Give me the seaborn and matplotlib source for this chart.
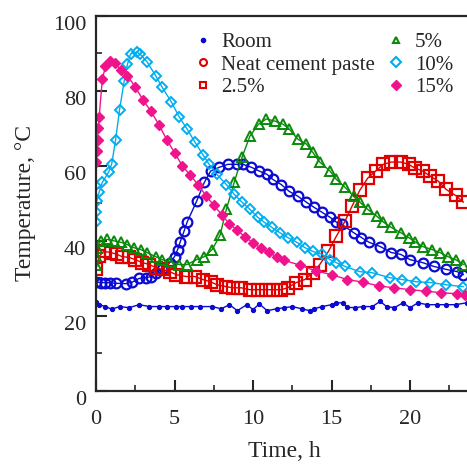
import pandas as pd
import matplotlib
matplotlib.use("Agg")
import matplotlib.pyplot as plt
import matplotlib.transforms as mtransforms
import seaborn as sns
from matplotlib.lines import Line2D
from matplotlib.ticker import MultipleLocator

# ---- data (time in h, temperature in deg C) ----
room_t = [0, 0.2, 0.6, 1.0, 1.5, 2.1, 2.75, 3.4, 4.0, 4.5, 5.1, 5.5, 6.05, 6.6,
          7.4, 7.97, 8.5, 9.0, 9.6, 10.0, 10.4, 10.9, 11.5, 12.0, 12.5, 13.1,
          13.6, 13.9, 14.4, 15.0, 15.3, 15.7, 16.0, 16.5, 17.0, 17.6, 18.1,
          18.5, 19.0, 19.55, 20.0, 20.5, 21.1, 21.7, 22.3, 22.9, 23.6]
room_T = [23.7, 23.0, 22.5, 21.8, 22.5, 22.2, 23.0, 22.5, 22.5, 22.5, 22.5, 22.5,
          22.5, 22.5, 22.5, 21.9, 23.0, 21.4, 23.0, 21.7, 23.2, 21.4, 21.9, 22.2,
          22.5, 21.9, 21.4, 21.9, 22.5, 23.0, 23.5, 23.5, 22.3, 22.2, 22.5, 22.5,
          23.9, 22.5, 22.2, 23.5, 22.2, 23.5, 23.0, 23.0, 23.0, 23.0, 23.5]

neat_t = [0, 0.3, 0.6, 0.9, 1.3, 1.9, 2.3, 2.75, 3.2, 3.5, 3.8, 4.2, 4.7, 5.0,
          5.2, 5.35, 5.6, 5.8, 6.4, 6.9, 7.3, 7.85, 8.4, 8.95, 9.35, 9.9, 10.4,
          10.9, 11.25, 11.8, 12.3, 12.85, 13.4, 13.9, 14.4, 14.9, 15.3, 15.65,
          16.4, 16.9, 17.4, 18.1, 18.8, 19.4, 20.0, 20.8, 21.5, 22.3, 23.0, 23.4]
neat_T = [29.0, 28.9, 28.9, 28.8, 28.7, 28.6, 29.0, 30.0, 30.2, 30.5, 31.5, 32.4,
          34.2, 35.8, 37.7, 39.6, 42.5, 45.0, 50.5, 55.6, 58.6, 59.6, 60.4, 60.4,
          60.4, 59.6, 58.6, 57.7, 56.4, 55.0, 53.2, 51.9, 50.3, 48.9, 47.6, 46.3,
          45.0, 44.4, 42.2, 40.9, 39.6, 38.5, 36.9, 36.4, 35.0, 34.2, 33.2, 32.4,
          31.8, 31.0]

p25_t = [0, 0.2, 0.5, 0.95, 1.35, 1.65, 2.1, 2.5, 2.95, 3.4, 3.8, 4.2, 4.7, 5.1,
         5.75, 6.3, 6.8, 7.3, 7.7, 8.3, 8.7, 9.25, 9.8, 10.3, 10.85, 11.25, 11.8,
         12.2, 12.75, 13.3, 13.8, 14.25, 14.8, 15.3, 15.85, 16.3, 16.8, 17.3,
         17.8, 18.3, 18.8, 19.4, 19.9, 20.3, 20.8, 21.3, 21.8, 22.3, 22.9, 23.4]
p25_T = [32.5, 35.9, 37.2, 36.9, 36.4, 35.8, 35.6, 35.0, 34.2, 33.7, 32.9, 32.4,
         31.8, 31.0, 30.5, 30.5, 29.7, 29.1, 28.3, 27.8, 27.5, 27.5, 27.0, 27.0,
         27.0, 27.0, 27.0, 27.5, 28.9, 29.7, 31.5, 33.7, 37.2, 41.2, 45.2, 49.2,
         53.5, 56.7, 58.6, 60.4, 61.0, 61.0, 60.4, 59.4, 58.6, 57.2, 55.9, 53.7,
         52.1, 50.3]

p5_t = [0, 0.02, 0.05, 0.3, 0.7, 1.15, 1.6, 2.0, 2.4, 2.85, 3.25, 3.8, 4.2, 4.7,
        5.3, 5.8, 6.4, 6.9, 7.4, 7.9, 8.3, 8.8, 9.3, 9.8, 10.35, 10.85, 11.4,
        11.9, 12.3, 12.85, 13.4, 13.8, 14.25, 14.9, 15.3, 15.85, 16.4, 16.8,
        17.3, 17.9, 18.3, 18.8, 19.4, 19.9, 20.3, 20.8, 21.4, 21.9, 22.4, 22.9,
        23.4]
p5_T = [33.7, 35.9, 38.2, 40.0, 40.4, 40.0, 39.6, 39.0, 38.2, 37.7, 36.9, 35.8,
        35.0, 34.5, 33.7, 33.7, 35.0, 35.8, 37.7, 41.5, 48.4, 55.6, 62.3, 67.9,
        71.1, 72.5, 71.9, 71.1, 69.8, 67.1, 65.8, 63.6, 61.0, 58.6, 56.4, 54.3,
        51.9, 50.3, 48.4, 46.5, 45.0, 43.6, 42.2, 40.9, 39.8, 38.5, 37.7, 36.9,
        35.8, 35.0, 33.7]

p10_t = [0, 0.02, 0.05, 0.2, 0.4, 0.8, 1.0, 1.25, 1.5, 1.8, 2.0, 2.2, 2.6, 2.8,
         3.25, 3.8, 4.2, 4.8, 5.3, 5.8, 6.3, 6.8, 7.2, 7.7, 8.3, 8.8, 9.3, 9.8,
         10.3, 10.7, 11.2, 11.7, 12.2, 12.8, 13.3, 13.8, 14.4, 14.9, 15.3, 15.85,
         16.8, 17.6, 18.7, 19.5, 20.4, 21.3, 22.3, 23.4]
p10_T = [45.0, 47.6, 50.6, 53.0, 55.6, 58.3, 60.5, 67.0, 75.0, 82.7, 87.0, 89.8,
         90.3, 89.8, 87.7, 84.0, 81.0, 77.0, 73.0, 69.8, 66.3, 63.0, 60.4, 57.7,
         55.0, 52.4, 50.3, 48.4, 46.3, 45.0, 43.6, 42.2, 40.9, 39.6, 38.2, 37.2,
         36.4, 35.0, 34.2, 33.2, 31.8, 31.5, 30.2, 29.7, 29.1, 28.9, 28.3, 27.8]

p15_t = [0, 0.05, 0.1, 0.15, 0.2, 0.4, 0.6, 0.9, 1.2, 1.6, 2.0, 2.5, 3.0, 3.5,
         4.0, 4.5, 5.0, 5.5, 6.0, 6.5, 7.0, 7.5, 8.0, 8.5, 9.0, 9.5, 10.0, 10.5,
         11.0, 11.5, 12.0, 13.0, 14.0, 15.0, 16.0, 17.0, 18.0, 19.0, 20.0, 21.0,
         22.0, 23.0, 23.5]
p15_T = [61.0, 64.0, 67.0, 70.0, 73.0, 83.0, 86.5, 88.0, 87.3, 85.5, 84.0, 81.0,
         77.5, 74.5, 71.0, 67.0, 63.5, 60.0, 57.5, 55.0, 52.0, 49.5, 47.0, 44.5,
         42.8, 41.0, 39.5, 38.0, 37.0, 35.7, 34.8, 33.5, 32.0, 31.0, 29.7, 29.0,
         28.0, 27.5, 27.0, 26.6, 26.2, 25.9, 25.7]

BLUE = "#0a0ad2"
RED = "#e00000"
GREEN = "#0a8a0a"
CYAN = "#00aeef"
MAGENTA = "#f0148c"

sns.set_style("ticks")
plt.rcParams["font.family"] = ["Liberation Serif", "DejaVu Serif"]

fig = plt.figure(figsize=(4.67, 4.68), dpi=100)
ax = fig.add_axes([0.2056, 0.1645, 0.807, 0.802])

series = [
    (room_t, room_T, dict(marker="o", ms=3, color=BLUE, mfc=BLUE, mew=0.8, lw=1.0)),
    (neat_t, neat_T, dict(marker="o", ms=7, color=BLUE, mfc="none", mew=1.6, lw=1.0)),
    (p25_t, p25_T, dict(marker="s", ms=8, color=RED, mfc="none", mew=1.6, lw=1.0)),
    (p5_t, p5_T, dict(marker="^", ms=7.5, color=GREEN, mfc="none", mew=1.4, lw=1.0)),
    (p10_t, p10_T, dict(marker="D", ms=5.5, color=CYAN, mfc="none", mew=1.4, lw=1.0)),
    (p15_t, p15_T, dict(marker="D", ms=5.5, color=MAGENTA, mfc=MAGENTA, mew=1.0, lw=1.0)),
]
for t, T, style in series:
    df = pd.DataFrame({"t": t, "T": T})
    sns.lineplot(data=df, x="t", y="T", ax=ax, estimator=None, sort=False,
                 markeredgecolor=style["color"], **style)

ax.set_xlim(0, 24)
ax.set_ylim(0, 100)
ax.xaxis.set_major_locator(MultipleLocator(5))
ax.xaxis.set_minor_locator(MultipleLocator(2.5))
ax.yaxis.set_major_locator(MultipleLocator(20))
ax.yaxis.set_minor_locator(MultipleLocator(10))
ax.tick_params(which="major", direction="in", length=8, width=1.5, labelsize=16)
ax.tick_params(axis="x", which="major", pad=14)
ax.tick_params(axis="y", which="major", pad=7)
ax.tick_params(which="minor", direction="in", length=4, width=1.2)
for side in ["top", "left", "bottom", "right"]:
    ax.spines[side].set_visible(True)
    ax.spines[side].set_linewidth(1.6)
ax.set_xlabel("Time, h", fontsize=17, labelpad=8)
ax.set_ylabel("Temperature, °C", fontsize=17, labelpad=12)

# y tick labels sit a little below their ticks in the reference
shift = mtransforms.ScaledTranslation(0, -5 / 72, fig.dpi_scale_trans)
for lbl in ax.get_yticklabels():
    lbl.set_transform(lbl.get_transform() + shift)

handles = [
    Line2D([], [], ls="none", marker="o", ms=3, color=BLUE),
    Line2D([], [], ls="none", marker="o", ms=5, mfc="none", mew=1.5, color=RED),
    Line2D([], [], ls="none", marker="s", ms=5, mfc="none", mew=1.5, color=RED),
    Line2D([], [], ls="none", marker="^", ms=5, mfc="none", mew=1.5, color=GREEN),
    Line2D([], [], ls="none", marker="D", ms=5, mfc="none", mew=1.5, color=CYAN),
    Line2D([], [], ls="none", marker="D", ms=5, color=MAGENTA),
]
labels = ["Room", "Neat cement paste", "2.5%", "5%", "10%", "15%"]
fig.legend(handles, labels, loc="upper left", bbox_to_anchor=(0.394, 0.953),
           ncol=2, frameon=False, fontsize=15, handlelength=0.8,
           handletextpad=0.5, columnspacing=0.6, labelspacing=0.15,
           borderpad=0)

fig.savefig("out.png", dpi=100)
